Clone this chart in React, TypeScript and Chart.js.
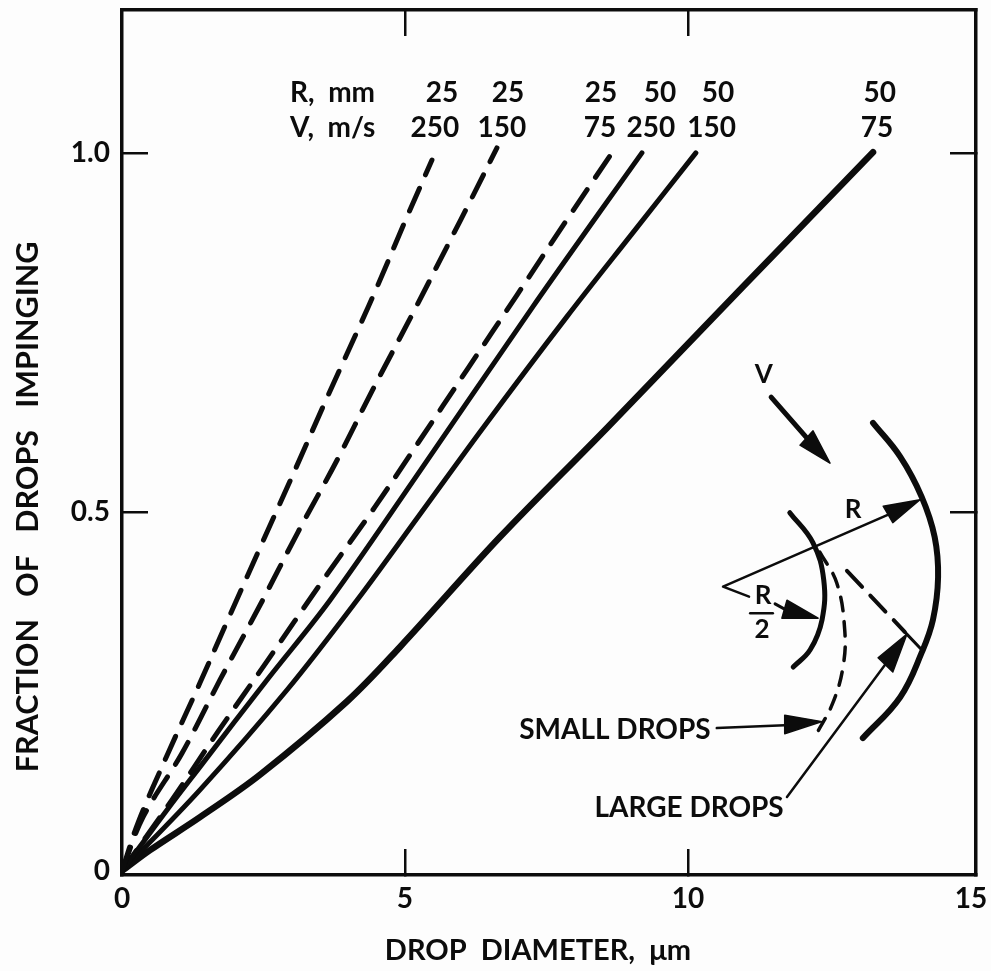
import React, { useEffect, useRef } from "react";
import { Chart, registerables } from "chart.js";

Chart.register(...registerables);

// Axes
const xTickValues = [0, 5, 10, 15];
const yTickValues = [0, 0.5, 1.0];
const yTickLabels = ["0", "0.5", "1.0"];
const xAxisTitle = "DROP  DIAMETER,  μm";
const yAxisTitle = "FRACTION   OF   DROPS   IMPINGING";
const xTitleAt = [7.35, -0.111];
const yTitleAt = [-1.66, 0.507];

// Impingement curves (drop diameter um, fraction)
const c25v250x = [0, 0.283, 0.813, 1.378, 1.855, 2.438, 3.057, 3.622, 4.205, 4.505, 5.035, 5.477];
const c25v250y = [0, 0.067, 0.164, 0.262, 0.347, 0.45, 0.5585, 0.659, 0.76, 0.813, 0.911, 0.99];
const c25v150x = [0, 0.371, 1.06, 1.731, 2.438, 3.11, 3.799, 4.435, 5.141, 5.83, 6.148, 6.625];
const c25v150y = [0, 0.075, 0.164, 0.266, 0.37, 0.472, 0.572, 0.671, 0.777, 0.883, 0.932, 1.007];
const c25v75x = [0, 0.883, 1.696, 2.58, 3.534, 4.47, 5.23, 6.113, 6.979, 7.862, 8.657];
const c25v75y = [0, 0.099, 0.194, 0.294, 0.403, 0.507, 0.596, 0.7, 0.802, 0.907, 1.0];
const c50v250x = [0, 0.795, 1.378, 2.562, 3.675, 5.23, 7.261, 8.445, 9.187];
const c50v250y = [0, 0.085, 0.145, 0.266, 0.377, 0.553, 0.786, 0.918, 1.0];
const c50v150x = [0, 1.378, 2.915, 4.152, 5.23, 6.378, 7.862, 9.028, 10.14];
const c50v150y = [0, 0.113, 0.252, 0.377, 0.493, 0.617, 0.772, 0.889, 1.0];
const c50v75x = [0, 0.495, 1.378, 2.438, 3.975, 4.912, 6.678, 8.569, 10.21, 11.75, 13.27];
const c50v75y = [0, 0.029, 0.075, 0.134, 0.236, 0.312, 0.465, 0.617, 0.7514, 0.877, 1.001];

// Inset sketch, in the chart's own axis units
const outerArcX = [13.27, 13.75, 14.13, 14.36, 14.42, 14.33, 14.13, 13.75, 13.09];
const outerArcY = [0.624, 0.577, 0.521, 0.465, 0.409, 0.35, 0.304, 0.242, 0.185];
const innerArcX = [11.8, 12.21, 12.4, 12.37, 12.16, 11.86];
const innerArcY = [0.499, 0.457, 0.405, 0.35, 0.308, 0.284];
const smallArcX = [12.33, 12.63, 12.77, 12.74, 12.56, 12.28];
const smallArcY = [0.444, 0.401, 0.336, 0.284, 0.234, 0.192];

const vShaftX = [11.47, 12.1];
const vShaftY = [0.66, 0.603];
const vHeadX = [12.51, 12.21, 11.98, 12.51];
const vHeadY = [0.568, 0.613, 0.593, 0.568];
const rShaftX = [11.08, 10.62, 13.53];
const rShaftY = [0.382, 0.396, 0.496];
const rHeadX = [14.1, 13.45, 13.62, 14.1];
const rHeadY = [0.517, 0.508, 0.485, 0.517];
const r2ShaftX = [11.54, 11.7];
const r2ShaftY = [0.372, 0.365];
const r2HeadX = [12.3, 11.75, 11.66, 12.3];
const r2HeadY = [0.352, 0.377, 0.352, 0.352];
const barX = [11.1, 11.5];
const barY = [0.359, 0.359];
const largeDashX = [12.81, 13.83];
const largeDashY = [0.418, 0.333];
const largeStubX = [13.83, 14.13];
const largeStubY = [0.333, 0.308];
const largeShaftX = [11.75, 13.48];
const largeShaftY = [0.103, 0.287];
const largeHeadX = [13.87, 13.36, 13.62, 13.87];
const largeHeadY = [0.33, 0.297, 0.277, 0.33];
const smallShaftX = [10.51, 11.71];
const smallShaftY = [0.199, 0.203];
const smallHeadX = [12.37, 11.71, 11.71, 12.37];
const smallHeadY = [0.208, 0.217, 0.191, 0.208];

// Text placed on the plot
const headerRow1 = ["25", "25", "25", "50", "50", "50"];
const headerRow1X = [5.654, 6.82, 8.463, 9.505, 10.53, 13.39];
const headerRow2 = ["250", "150", "75", "250", "150", "75"];
const headerRow2X = [5.53, 6.714, 8.445, 9.346, 10.42, 13.34];
const headerRow1Y = 1.0836;
const headerRow2Y = 1.0348;
const sideTexts = ["R,  mm", "V,  m/s"];
const sideX = [2.968, 2.968];
const sideY = [1.0836, 1.0348];
const insetTexts = ["V", "R", "R", "2"];
const insetX = [11.34, 12.92, 11.33, 11.31];
const insetY = [0.691, 0.503, 0.384, 0.336];
const dropTexts = ["SMALL DROPS", "LARGE DROPS"];
const dropX = [8.71, 10.02];
const dropY = [0.196, 0.088];

const INK = "#0c0c0c";
const FONT = "Lato, 'Open Sans', sans-serif";

const zip = (xs: number[], ys: number[]) => xs.map((x, i) => ({ x, y: ys[i] }));

const line = (
  xs: number[],
  ys: number[],
  width: number,
  tension = 0,
  dash: number[] = []
) => ({
  data: zip(xs, ys),
  showLine: true,
  borderColor: INK,
  backgroundColor: INK,
  borderWidth: width,
  borderDash: dash,
  borderCapStyle: "round" as const,
  borderJoinStyle: "round" as const,
  tension,
  pointRadius: 0,
  fill: false,
});

const head = (xs: number[], ys: number[]) => ({
  ...line(xs, ys, 1.5),
  fill: "shape" as const,
});

const textPlugin = {
  id: "plotTexts",
  afterDatasetsDraw(chart: any) {
    const { ctx, scales } = chart;
    const px = (v: number) => scales.x.getPixelForValue(v);
    const py = (v: number) => scales.y.getPixelForValue(v);
    const put = (t: string, x: number, y: number, font: string, align: CanvasTextAlign) => {
      ctx.font = font;
      ctx.textAlign = align;
      ctx.fillText(t, px(x), py(y));
    };
    ctx.save();
    ctx.fillStyle = INK;
    ctx.textBaseline = "middle";
    const big = `700 28px ${FONT}`;
    headerRow1.forEach((t, i) => put(t, headerRow1X[i], headerRow1Y, big, "center"));
    headerRow2.forEach((t, i) => put(t, headerRow2X[i], headerRow2Y, big, "center"));
    sideTexts.forEach((t, i) => put(t, sideX[i], sideY[i], big, "left"));
    insetTexts.forEach((t, i) => put(t, insetX[i], insetY[i], `700 26px ${FONT}`, "center"));
    dropTexts.forEach((t, i) => put(t, dropX[i], dropY[i], `700 28px ${FONT}`, "center"));
    put(xAxisTitle, xTitleAt[0], xTitleAt[1], `700 29px ${FONT}`, "center");
    ctx.translate(px(yTitleAt[0]), py(yTitleAt[1]));
    ctx.rotate(-Math.PI / 2);
    ctx.font = `700 30.5px ${FONT}`;
    ctx.textAlign = "center";
    ctx.fillText(yAxisTitle, 0, 0);
    ctx.restore();
  },
};

export default function App() {
  const ref = useRef<HTMLCanvasElement>(null);

  useEffect(() => {
    if (!ref.current) return;
    const setX = (axis: any) => {
      axis.ticks = xTickValues.map((value) => ({ value }));
    };
    const setY = (axis: any) => {
      axis.ticks = yTickValues.map((value) => ({ value }));
    };
    const fixSize = (key: "width" | "height", size: number) => (s: any) => {
      s[key] = size;
      s.paddingLeft = s.paddingRight = s.paddingTop = s.paddingBottom = 0;
    };
    const gridFor = (hidden: number[]) => ({
      drawOnChartArea: false,
      drawTicks: true,
      tickLength: -26,
      lineWidth: 2.5,
      tickWidth: 2.5,
      color: INK,
      tickColor: (c: any) => (hidden.includes(c.tick?.value) ? "rgba(0,0,0,0)" : INK),
    });
    const border = { display: true, color: INK, width: 3.5 };
    const xLimits = { min: 0, max: 15.09 };
    const yLimits = { min: -0.0056, max: 1.199 };

    const chart = new Chart(ref.current, {
      type: "scatter",
      data: {
        datasets: [
          line(c25v250x, c25v250y, 5, 0.35, [25, 15]),
          line(c25v150x, c25v150y, 5, 0.35, [25, 15]),
          line(c25v75x, c25v75y, 5, 0.35, [25, 15]),
          line(c50v250x, c50v250y, 5, 0.35),
          line(c50v150x, c50v150y, 5, 0.35),
          line(c50v75x, c50v75y, 6.5, 0.35),
          line(outerArcX, outerArcY, 6, 0.4),
          line(innerArcX, innerArcY, 5, 0.4),
          line(smallArcX, smallArcY, 3.5, 0.4, [14, 11]),
          line(vShaftX, vShaftY, 5),
          head(vHeadX, vHeadY),
          line(rShaftX, rShaftY, 2.5),
          head(rHeadX, rHeadY),
          line(r2ShaftX, r2ShaftY, 3),
          head(r2HeadX, r2HeadY),
          line(barX, barY, 2.5),
          line(largeDashX, largeDashY, 4, 0, [22, 12]),
          line(largeStubX, largeStubY, 3),
          line(largeShaftX, largeShaftY, 2.5),
          head(largeHeadX, largeHeadY),
          line(smallShaftX, smallShaftY, 2.5),
          head(smallHeadX, smallHeadY),
        ] as any,
      },
      options: {
        animation: false,
        responsive: false,
        devicePixelRatio: 1,
        layout: { padding: 0 },
        plugins: {
          legend: { display: false },
          title: { display: false },
          tooltip: { enabled: false },
        },
        scales: {
          x: {
            type: "linear",
            position: "bottom",
            ...xLimits,
            afterBuildTicks: setX,
            afterFit: fixSize("height", 96),
            grid: gridFor([0, 15]),
            border,
            ticks: {
              autoSkip: false,
              maxRotation: 0,
              padding: 33,
              color: INK,
              font: { family: FONT, size: 28, weight: "700" },
            },
          },
          y: {
            type: "linear",
            position: "left",
            ...yLimits,
            afterBuildTicks: setY,
            afterFit: fixSize("width", 122),
            grid: gridFor([0]),
            border,
            ticks: {
              autoSkip: false,
              padding: 38,
              color: INK,
              font: { family: FONT, size: 28, weight: "700" },
              callback: (v: any) => yTickLabels[yTickValues.indexOf(Number(v))] ?? "",
            },
          },
          x2: {
            type: "linear",
            position: "top",
            ...xLimits,
            afterBuildTicks: setX,
            afterFit: fixSize("height", 10),
            grid: gridFor([0, 15]),
            border,
            ticks: { display: false },
          },
          y2: {
            type: "linear",
            position: "right",
            ...yLimits,
            afterBuildTicks: setY,
            afterFit: fixSize("width", 15),
            grid: gridFor([0]),
            border,
            ticks: { display: false },
          },
        },
      } as any,
      plugins: [textPlugin],
    });
    return () => chart.destroy();
  }, []);

  return (
    <div style={{ position: "absolute", left: 0, top: 0, width: 991, height: 971, background: "#fdfdfd" }}>
      <canvas ref={ref} width={991} height={971} style={{ display: "block", filter: "blur(0.5px)" }} />
    </div>
  );
}
